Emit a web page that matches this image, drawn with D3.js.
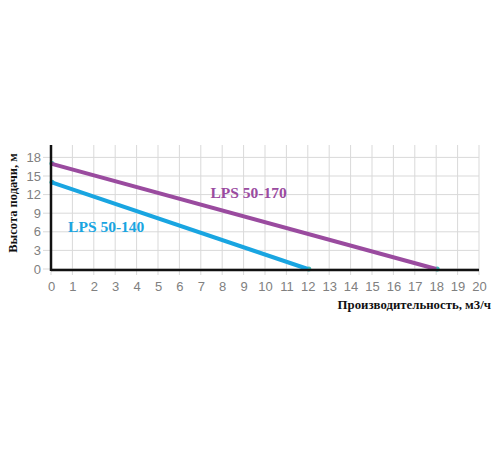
<!DOCTYPE html>
<html>
<head>
<meta charset="utf-8">
<script src="https://cdn.jsdelivr.net/npm/d3@7"></script>
<style>
  body { margin: 0; background: #fff; }
  svg { display: block; overflow: visible; }
</style>
</head>
<body>
<script>
const width = 500,
  height = 450;

const margin = { top: 145, right: 21, bottom: 181, left: 51 };
const innerWidth = width - margin.left - margin.right;
const innerHeight = height - margin.top - margin.bottom;

// Data
const seriesNames = ["LPS 50-140", "LPS 50-170"];
const flow140 = [0, 12];
const head140 = [14, 0];
const flow170 = [0, 18];
const head170 = [17, 0];
const colors = ["#19a5e1", "#9a4b9f"];
const xTicks = d3.range(0, 21, 1);
const yTicks = [0, 3, 6, 9, 12, 15, 18];

const series = [
  { name: seriesNames[0], color: colors[0], pts: flow140.map((x, i) => ({ x, y: head140[i] })) },
  { name: seriesNames[1], color: colors[1], pts: flow170.map((x, i) => ({ x, y: head170[i] })) }
];

const xScale = d3.scaleLinear().domain([0, 20]).range([0, innerWidth]);
const yScale = d3.scaleLinear().domain([0, 20]).range([innerHeight, 0]);

const svg = d3
  .select("body")
  .append("svg")
  .attr("width", width)
  .attr("height", height);

const mainG = svg
  .append("g")
  .attr("transform", `translate(${margin.left}, ${margin.top})`);

// grid
mainG
  .append("g")
  .selectAll("line")
  .data(xTicks)
  .join("line")
  .attr("x1", d => xScale(d))
  .attr("x2", d => xScale(d))
  .attr("y1", 0)
  .attr("y2", innerHeight + 6)
  .attr("stroke", "#d9d9d9")
  .attr("stroke-width", 1);

mainG
  .append("g")
  .selectAll("line")
  .data(yTicks)
  .join("line")
  .attr("x1", -8)
  .attr("x2", innerWidth)
  .attr("y1", d => yScale(d))
  .attr("y2", d => yScale(d))
  .attr("stroke", "#d9d9d9")
  .attr("stroke-width", 1);

// axes
const xAxis = d3.axisBottom(xScale).tickValues(xTicks).tickSize(0).tickPadding(13);
const yAxis = d3.axisLeft(yScale).tickValues(yTicks).tickSize(0).tickPadding(10);

const gx = mainG
  .append("g")
  .attr("transform", `translate(0,${innerHeight})`)
  .call(xAxis);
gx.select(".domain").remove();
gx.selectAll("text")
  .attr("font-family", "'Liberation Sans', Arial, sans-serif")
  .attr("font-size", 13)
  .attr("fill", "#808080");

const gy = mainG.append("g").call(yAxis);
gy.select(".domain").remove();
gy.selectAll("text")
  .attr("font-family", "'Liberation Sans', Arial, sans-serif")
  .attr("font-size", 13)
  .attr("fill", "#808080");

// end markers
series.forEach(s => {
  mainG
    .append("g")
    .selectAll("circle")
    .data(s.pts)
    .join("circle")
    .attr("cx", d => xScale(d.x) + 1)
    .attr("cy", d => yScale(d.y))
    .attr("r", 2.5)
    .attr("fill", "#3bb8b4");
});

// lines
const line = d3
  .line()
  .x(d => xScale(d.x))
  .y(d => yScale(d.y));

series.forEach(s => {
  mainG
    .append("path")
    .datum(s.pts)
    .attr("d", line)
    .attr("fill", "none")
    .attr("stroke", s.color)
    .attr("stroke-width", 4);
});

// axis lines
mainG
  .append("line")
  .attr("x1", 0)
  .attr("x2", innerWidth)
  .attr("y1", innerHeight + 1)
  .attr("y2", innerHeight + 1)
  .attr("stroke", "#111")
  .attr("stroke-width", 2.5);

mainG
  .append("line")
  .attr("x1", 0)
  .attr("x2", 0)
  .attr("y1", 0)
  .attr("y2", innerHeight + 2)
  .attr("stroke", "#111")
  .attr("stroke-width", 2.5);

// series labels
mainG
  .append("text")
  .attr("x", xScale(0.8))
  .attr("y", yScale(5.9))
  .text(seriesNames[0])
  .attr("font-family", "'Liberation Serif', 'Times New Roman', serif")
  .attr("font-weight", "bold")
  .attr("font-size", 15.5)
  .attr("fill", colors[0]);

mainG
  .append("text")
  .attr("x", xScale(7.45))
  .attr("y", yScale(11.45))
  .text(seriesNames[1])
  .attr("font-family", "'Liberation Serif', 'Times New Roman', serif")
  .attr("font-weight", "bold")
  .attr("font-size", 15.5)
  .attr("fill", colors[1]);

// axis titles
mainG
  .append("text")
  .attr("x", innerWidth + 12)
  .attr("y", innerHeight + 40)
  .attr("text-anchor", "end")
  .text("Производительность, м3/ч")
  .attr("font-family", "'Liberation Serif', 'Times New Roman', serif")
  .attr("font-weight", "bold")
  .attr("font-size", 12.8)
  .attr("fill", "#111");

mainG
  .append("text")
  .attr("transform", "rotate(-90)")
  .attr("x", -(innerHeight / 2) + 4)
  .attr("y", -34)
  .attr("text-anchor", "middle")
  .text("Высота подачи, м")
  .attr("font-family", "'Liberation Serif', 'Times New Roman', serif")
  .attr("font-weight", "bold")
  .attr("font-size", 12.5)
  .attr("fill", "#111");
</script>
</body>
</html>
